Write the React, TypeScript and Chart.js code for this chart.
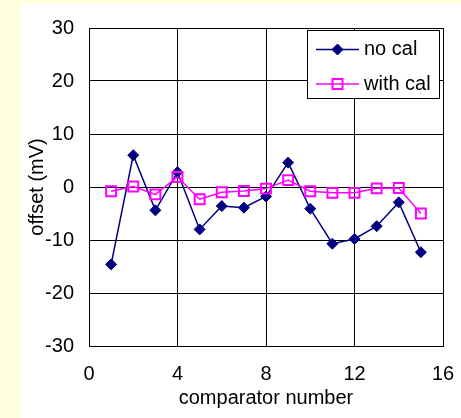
import React, { useEffect, useRef } from "react";
import { Chart, registerables } from "chart.js";

Chart.register(...registerables);

const comparators = [1, 2, 3, 4, 5, 6, 7, 8, 9, 10, 11, 12, 13, 14, 15];
const noCal = [-14.6, 6.0, -4.4, 2.8, -8.0, -3.6, -3.9, -1.8, 4.6, -4.1, -10.7, -9.8, -7.4, -2.9, -12.3];
const withCal = [-0.8, 0.1, -1.4, 1.9, -2.3, -1.0, -0.75, -0.3, 1.3, -0.8, -1.1, -1.1, -0.25, -0.2, -5.0];
const seriesLabels = ["no cal", "with cal"];
const xTitle = "comparator number";
const yTitle = "offset (mV)";

const NAVY = "#000080";
const PINK = "#FF00FF";
const FONT = "'Liberation Sans', Arial, sans-serif";
const FS = 20;

const legendPlugin = {
  id: "boxLegend",
  afterDraw(chart: any) {
    const { ctx } = chart;
    const bx = 307.5, by = 30.5, bw = 132, bh = 68;
    ctx.save();
    ctx.fillStyle = "#FFFFFF";
    ctx.fillRect(bx, by, bw, bh);
    ctx.strokeStyle = "#000";
    ctx.lineWidth = 1;
    ctx.strokeRect(bx, by, bw, bh);
    const rows = [
      { y: 49.5, color: NAVY, style: "rectRot", r: 5.5 },
      { y: 84, color: PINK, style: "rect", r: 5 },
    ];
    rows.forEach((row, i) => {
      ctx.strokeStyle = row.color;
      ctx.lineWidth = 1.5;
      ctx.beginPath();
      ctx.moveTo(316, row.y);
      ctx.lineTo(359, row.y);
      ctx.stroke();
      const x = 337.5;
      ctx.beginPath();
      if (row.style === "rectRot") {
        ctx.fillStyle = row.color;
        ctx.lineWidth = 1;
        ctx.moveTo(x - row.r, row.y);
        ctx.lineTo(x, row.y - row.r);
        ctx.lineTo(x + row.r, row.y);
        ctx.lineTo(x, row.y + row.r);
        ctx.closePath();
        ctx.fill();
        ctx.stroke();
      } else {
        ctx.lineWidth = 2;
        ctx.rect(x - row.r, row.y - row.r, 2 * row.r, 2 * row.r);
        ctx.stroke();
      }
      ctx.fillStyle = "#000";
      ctx.font = `${FS}px ${FONT}`;
      ctx.textAlign = "left";
      ctx.textBaseline = "middle";
      ctx.fillText(seriesLabels[i], 364, row.y);
    });
    ctx.restore();
  },
};

export default function App() {
  const ref = useRef<HTMLCanvasElement>(null);
  useEffect(() => {
    if (!ref.current) return;
    Chart.defaults.font.family = FONT;
    const chart = new Chart(ref.current, {
      type: "line",
      data: {
        datasets: [
          {
            label: seriesLabels[0],
            data: comparators.map((c, i) => ({ x: c, y: noCal[i] })),
            borderColor: NAVY,
            backgroundColor: NAVY,
            borderWidth: 1.5,
            pointStyle: "rectRot",
            pointRadius: 5.5,
            pointBorderWidth: 1,
            pointBorderColor: NAVY,
            pointBackgroundColor: NAVY,
            order: 2,
          },
          {
            label: seriesLabels[1],
            data: comparators.map((c, i) => ({ x: c, y: withCal[i] })),
            borderColor: PINK,
            backgroundColor: "rgba(0,0,0,0)",
            borderWidth: 1.5,
            pointStyle: "rect",
            pointRadius: 7,
            pointBorderWidth: 2,
            pointBorderColor: PINK,
            pointBackgroundColor: "rgba(0,0,0,0)",
            order: 1,
          },
        ],
      },
      options: {
        responsive: false,
        animation: false,
        layout: { padding: { left: 0, right: 18, top: 28, bottom: 0 } },
        plugins: { legend: { display: false }, tooltip: { enabled: false } },
        scales: {
          x: {
            type: "linear",
            min: 0,
            max: 16,
            ticks: { stepSize: 4, color: "#000", font: { size: FS }, padding: 16 },
            grid: { color: "#000", lineWidth: 1, drawTicks: false },
            border: { color: "#000", width: 1 },
            title: { display: true, text: xTitle, color: "#000", font: { size: FS }, padding: { top: 0, bottom: 8 } },
            afterFit: (s: any) => { s.height = 72; s.paddingLeft = 0; s.paddingRight = 0; },
          },
          y: {
            min: -30,
            max: 30,
            ticks: { stepSize: 10, color: "#000", font: { size: FS }, padding: 15 },
            grid: { color: "#000", lineWidth: 1, drawTicks: false },
            border: { color: "#000", width: 1 },
            title: { display: true, text: yTitle, color: "#000", font: { size: FS }, padding: { top: 25, bottom: 0 } },
            afterFit: (s: any) => { s.width = 89; s.paddingTop = 0; s.paddingBottom = 0; },
          },
        },
      },
      plugins: [legendPlugin],
    } as any);
    return () => chart.destroy();
  }, []);
  return (
    <div style={{ position: "fixed", left: 0, top: 0, width: 461, height: 418, background: "#FFFFDD", overflow: "hidden" }}>
      <div style={{ position: "absolute", left: 20, top: 4, right: 0, bottom: 0, background: "#FFFFFF" }} />
      <canvas ref={ref} width={461} height={418} style={{ position: "absolute", left: 0, top: 0 }} />
    </div>
  );
}
